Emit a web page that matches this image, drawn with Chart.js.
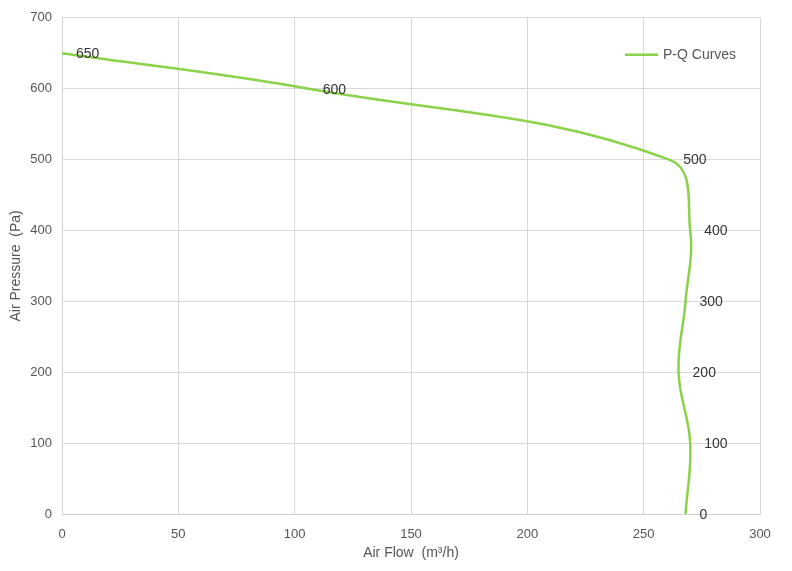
<!DOCTYPE html>
<html>
<head>
<meta charset="utf-8">
<script src="https://cdn.jsdelivr.net/npm/chart.js@4/dist/chart.umd.min.js"></script>
<style>
  html, body { margin: 0; padding: 0; background: #fff; }
  #wrap { width: 792px; height: 571px; }
</style>
</head>
<body>
<div id="wrap"><canvas id="myChart"></canvas></div>
<script>
// P-Q curve
const airFlow = [0, 106, 261, 270, 268, 265, 270, 268];
const airPressure = [650, 600, 500, 400, 300, 200, 100, 0];
const seriesName = 'P-Q Curves';
const xTicks = [0, 50, 100, 150, 200, 250, 300];
const yTicks = [0, 100, 200, 300, 400, 500, 600, 700];

const green = '#8cd14a';
const font = 'Liberation Sans, Arial, Helvetica, sans-serif';

// point value labels, drawn at each point's own position
const pointLabels = {
  id: 'pointLabels',
  afterDatasetsDraw(chart) {
    const ctx = chart.ctx;
    const meta = chart.getDatasetMeta(0);
    ctx.save();
    ctx.font = '14px ' + font;
    ctx.fillStyle = '#333';
    ctx.textAlign = 'left';
    ctx.textBaseline = 'middle';
    meta.data.forEach((pt, i) => {
      ctx.fillText(String(airPressure[i]), pt.x + 14, pt.y + 1);
    });
    ctx.restore();
  }
};

// legend sits inside the plot, top right
const insideLegend = {
  id: 'insideLegend',
  afterDraw(chart) {
    const ctx = chart.ctx;
    const area = chart.chartArea;
    const y = area.top + 37;
    const x0 = area.right - 135;
    ctx.save();
    ctx.strokeStyle = green;
    ctx.lineWidth = 2.5;
    ctx.beginPath();
    ctx.moveTo(x0, y);
    ctx.lineTo(x0 + 33, y);
    ctx.stroke();
    ctx.font = '14px ' + font;
    ctx.fillStyle = '#555';
    ctx.textBaseline = 'middle';
    ctx.fillText(seriesName, x0 + 38, y);
    ctx.restore();
  }
};

const ctx = document.querySelector('#myChart').getContext('2d');
const chart = new Chart(ctx, {
  type: 'scatter',
  data: {
    datasets: [{
      label: seriesName,
      data: airFlow.map((x, i) => ({ x, y: airPressure[i] })),
      showLine: true,
      borderColor: green,
      backgroundColor: green,
      borderWidth: 2.5,
      pointRadius: 0,
      tension: 0.4
    }]
  },
  plugins: [pointLabels, insideLegend],
  options: {
    responsive: true,
    maintainAspectRatio: false,
    animation: false,
    layout: { padding: { top: 15, right: 32, left: 0, bottom: 0 } },
    plugins: {
      legend: { display: false },
      tooltip: { enabled: false }
    },
    scales: {
      x: {
        type: 'linear',
        min: 0,
        max: 300,
        afterBuildTicks: axis => { axis.ticks = xTicks.map(v => ({ value: v })); },
        afterFit: axis => { axis.height = 57; },
        grid: { color: '#d9d9d9', drawTicks: false },
        border: { color: '#d0d0d0' },
        ticks: { color: '#555', font: { family: font, size: 13 }, padding: 13, maxRotation: 0 },
        title: { display: true, text: 'Air Flow  (m³/h)', color: '#555', font: { family: font, size: 14 }, padding: { top: 4, bottom: 9 } }
      },
      y: {
        type: 'linear',
        min: 0,
        max: 700,
        afterBuildTicks: axis => { axis.ticks = yTicks.map(v => ({ value: v })); },
        afterFit: axis => { axis.width = 62; },
        grid: { color: '#d9d9d9', drawTicks: false },
        border: { color: '#d0d0d0' },
        ticks: { color: '#555', font: { family: font, size: 13 }, padding: 10 },
        title: { display: true, text: 'Air Pressure  (Pa)', color: '#555', font: { family: font, size: 14 }, padding: { top: 8, bottom: 2 } }
      }
    }
  }
});
</script>
</body>
</html>
